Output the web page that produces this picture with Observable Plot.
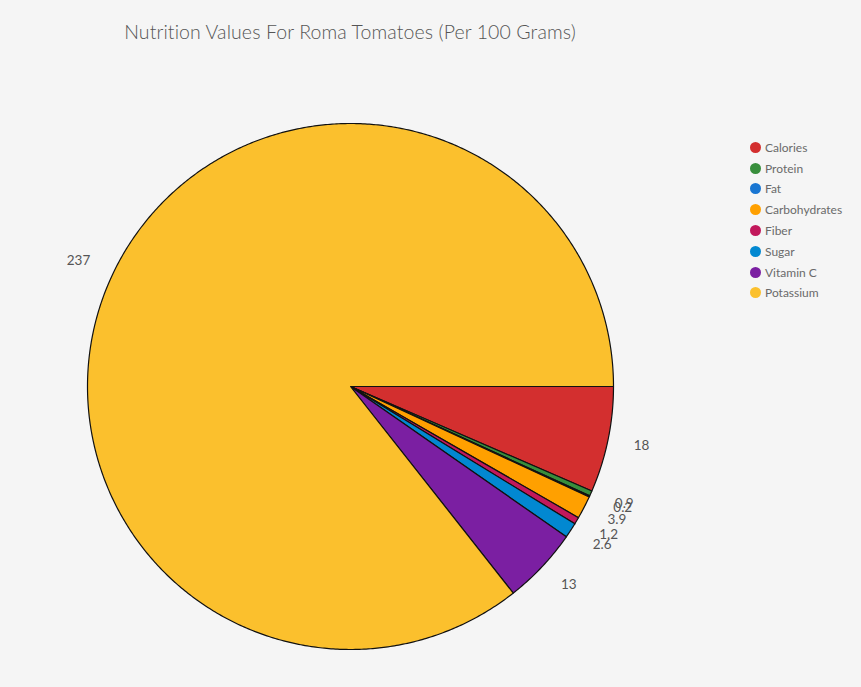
<!DOCTYPE html>
<html><head><meta charset="utf-8">
<script src="https://cdn.jsdelivr.net/npm/d3@7"></script>
<script src="https://cdn.jsdelivr.net/npm/@observablehq/plot@0.6"></script>
<style>
html,body{margin:0;padding:0;background:#f5f5f5;}
#wrap{position:relative;width:861px;height:687px;overflow:hidden;font-family:Lato,"Open Sans",sans-serif;}
#title{position:absolute;left:0;width:700px;top:20px;text-align:center;font-size:19.5px;color:#555;font-weight:300;letter-spacing:0.1px;}
#chart{position:absolute;left:0;top:60px;}
#legend{position:absolute;left:750px;top:137px;font-size:12px;color:#6a6a6a;}
#legend .row{height:20.8px;display:flex;align-items:center;}
#legend .dot{width:11px;height:11px;border-radius:50%;margin-right:4px;}
</style></head>
<body><div id="wrap"><div id="title">Nutrition Values For Roma Tomatoes (Per 100 Grams)</div><div id="chart"></div><div id="legend"></div></div>
<script>
const names = ["Calories","Protein","Fat","Carbohydrates","Fiber","Sugar","Vitamin C","Potassium"];
const values = [18,0.9,0.2,3.9,1.2,2.6,13,237];
const colors = ["#d32f2f","#388e3c","#1976d2","#ffa000","#c2185b","#0288d1","#7b1fa2","#fbc02d"];

const W = 861, H = 627, cx = 350, cy = 326, R = 263;
const pie = d3.pie().sort(null).startAngle(0).endAngle(2*Math.PI)(values);
const pts = [];
const labels = [];
pie.forEach((p,i)=>{
  const n = Math.max(2, Math.ceil((p.endAngle-p.startAngle)*120));
  pts.push({name:names[i],x:0,y:0});
  for(let k=0;k<=n;k++){
    const a = p.startAngle + (p.endAngle-p.startAngle)*k/n;
    pts.push({name:names[i],x:Math.cos(a),y:Math.sin(a)});
  }
  const m = (p.startAngle+p.endAngle)/2;
  labels.push({name:names[i],value:values[i],x:1.1*Math.cos(m),y:1.1*Math.sin(m)});
});

const plot = Plot.plot({
  width: W, height: H, margin: 0,
  style:{background:"transparent",fontFamily:"Lato, 'Open Sans', sans-serif"},
  x:{domain:[-cx/R,(W-cx)/R],range:[0,W],axis:null},
  y:{domain:[-cy/R,(H-cy)/R],range:[0,H],axis:null},
  color:{domain:names,range:colors},
  marks:[
    Plot.line(pts,{x:"x",y:"y",z:"name",fill:"name",stroke:"#111",strokeWidth:1.2,curve:"linear-closed",strokeLinejoin:"round"}),
    Plot.text(labels.filter(d=>d.x>=0),{x:"x",y:"y",text:d=>String(d.value),fill:"#555",fontSize:13.5,textAnchor:"start"}),
    Plot.text(labels.filter(d=>d.x<0),{x:"x",y:"y",text:d=>String(d.value),fill:"#555",fontSize:13.5,textAnchor:"end"})
  ]
});
document.getElementById("chart").appendChild(plot);

const lg = document.getElementById("legend");
names.forEach((n,i)=>{
  const r = document.createElement("div"); r.className="row";
  r.innerHTML = `<span class="dot" style="background:${colors[i]}"></span><span>${n}</span>`;
  lg.appendChild(r);
});
</script></body></html>
